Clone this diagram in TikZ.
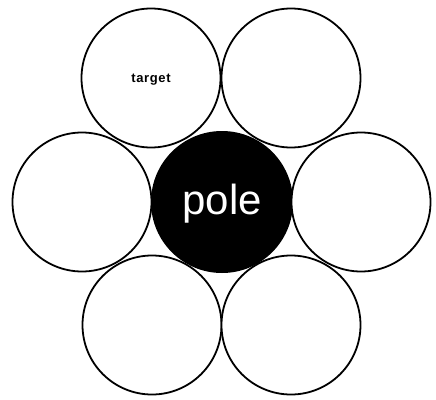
\documentclass[tikz,border=0pt]{standalone}
\usepackage{fontspec}
\setmainfont{Liberation Sans}
\begin{document}
\begin{tikzpicture}[x=1pt,y=-1pt,
  outer/.style={circle,draw=black,fill=white,line width=1.8pt,minimum size=139pt,inner sep=0pt},
  polestyle/.style={circle,fill=black,minimum size=142pt,inner sep=0pt,text=white}]
\useasboundingbox (0,0) rectangle (436,399);
\node[polestyle] (pole) at (222,202) {};
\node[outer] (tl) at (151,78) {};
\node[outer] (tr) at (291,78) {};
\node[outer] (l) at (82,202) {};
\node[outer] (r) at (361,202) {};
\node[outer] (bl) at (152,325) {};
\node[outer] (br) at (291,325) {};
\node[text=white,font=\fontsize{42}{42}\selectfont] (polelbl) at (222,204) {pole};
\node[font=\fontsize{13}{13}\selectfont\bfseries\addfontfeature{LetterSpace=5}] (tgt) at (151,80) {target};
\end{tikzpicture}
\end{document}
